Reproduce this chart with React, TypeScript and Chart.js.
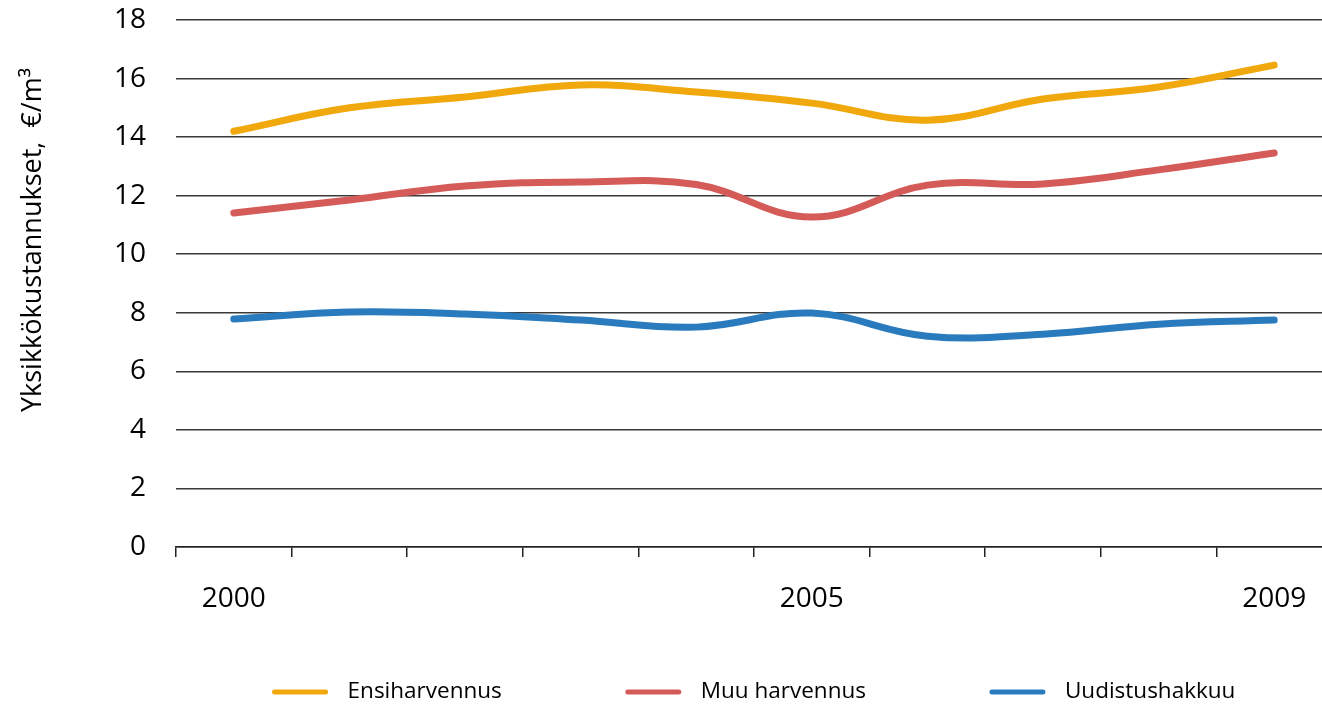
import React, { useEffect, useRef } from "react";
import { Chart, registerables } from "chart.js";

Chart.register(...registerables);

const years = ["2000", "2001", "2002", "2003", "2004", "2005", "2006", "2007", "2008", "2009"];
const shownYears = ["2000", "2005", "2009"];
const ensiharvennus = [14.2, 15.0, 15.37, 15.78, 15.54, 15.16, 14.58, 15.3, 15.71, 16.46];
const muuHarvennus = [11.41, 11.85, 12.33, 12.47, 12.38, 11.27, 12.36, 12.4, 12.88, 13.46];
const uudistushakkuu = [7.79, 8.03, 7.96, 7.75, 7.51, 7.99, 7.2, 7.27, 7.61, 7.75];
const seriesNames = ["Ensiharvennus", "Muu harvennus", "Uudistushakkuu"];
const seriesColors = ["#F0A80C", "#D55B58", "#2A7BBE"];
const yTitle = "Yksikkökustannukset,  €/m³";

const FONT = "'Open Sans', sans-serif";

const customDraw = {
  id: "customDraw",
  afterDraw(chart: any) {
    const ctx = chart.ctx;
    const area = chart.chartArea;
    ctx.save();
    // y-axis title
    ctx.fillStyle = "#000";
    ctx.font = `27px ${FONT}`;
    ctx.textAlign = "center";
    ctx.textBaseline = "middle";
    ctx.translate(33, 240);
    ctx.rotate(-Math.PI / 2);
    ctx.fillText(yTitle, 0, 0);
    ctx.restore();

    // legend
    ctx.save();
    ctx.font = `22.5px ${FONT}`;
    const lineW = 55;
    const gap = 20;
    const spacing = 124;
    const items = chart.data.datasets.map((d: any) => ({
      label: d.label,
      color: d.borderColor,
      w: ctx.measureText(d.label).width,
    }));
    let total = 0;
    items.forEach((it: any, i: number) => {
      total += lineW + gap + it.w + (i < items.length - 1 ? spacing : 0);
    });
    const center = (area.left + area.right) / 2;
    let x = center - total / 2;
    const y = 692;
    items.forEach((it: any) => {
      ctx.strokeStyle = it.color;
      ctx.lineWidth = 5;
      ctx.lineCap = "round";
      ctx.beginPath();
      ctx.moveTo(x + 2, y);
      ctx.lineTo(x + lineW - 2, y);
      ctx.stroke();
      ctx.fillStyle = "#000";
      ctx.textAlign = "left";
      ctx.textBaseline = "middle";
      ctx.fillText(it.label, x + lineW + gap, y);
      x += lineW + gap + it.w + spacing;
    });
    ctx.restore();
  },
};

export default function App() {
  const ref = useRef<HTMLCanvasElement>(null);
  useEffect(() => {
    if (!ref.current) return;
    const values = [ensiharvennus, muuHarvennus, uudistushakkuu];
    const chart = new Chart(ref.current, {
      type: "line",
      data: {
        labels: years,
        datasets: values.map((v, i) => ({
          label: seriesNames[i],
          data: v,
          borderColor: seriesColors[i],
          backgroundColor: seriesColors[i],
          borderWidth: 7,
          borderCapStyle: "round",
          borderJoinStyle: "round",
          pointRadius: 0,
          tension: 0.4,
          fill: false,
        })),
      },
      options: {
        animation: false,
        responsive: false,
        maintainAspectRatio: false,
        layout: { padding: { top: 20, right: 0, left: 0, bottom: 0 } },
        plugins: {
          legend: { display: false },
          tooltip: { enabled: false },
        },
        scales: {
          x: {
            type: "category",
            offset: true,
            afterFit(scale: any) {
              scale.height = 157;
              scale.paddingLeft = 0;
              scale.paddingRight = 0;
            },
            grid: {
              offset: true,
              drawOnChartArea: false,
              drawTicks: true,
              tickLength: 10,
              color: "#222",
              lineWidth: 1.5,
            },
            border: { display: true, color: "#222", width: 1.5 },
            ticks: {
              autoSkip: false,
              maxRotation: 0,
              padding: 25,
              color: "#000",
              font: { family: FONT, size: 28 },
              callback(this: any, val: any, idx: number) {
                const lbl = years[idx];
                return shownYears.includes(lbl) ? lbl : "";
              },
            },
          },
          y: {
            min: 0,
            max: 18,
            afterFit(scale: any) {
              scale.width = 176;
              scale.paddingTop = 0;
              scale.paddingBottom = 0;
            },
            grid: {
              drawTicks: false,
              color: "#3a3a3a",
              lineWidth: 1.5,
            },
            border: { display: false },
            ticks: {
              stepSize: 2,
              padding: 30,
              color: "#000",
              font: { family: FONT, size: 28 },
            },
          },
        },
      },
      plugins: [customDraw],
    } as any);
    return () => chart.destroy();
  }, []);
  return (
    <div
      style={{
        position: "absolute",
        left: 0,
        top: 0,
        width: 1322,
        height: 704,
        overflow: "hidden",
        background: "#fff",
      }}
    >
      <canvas ref={ref} width={1332} height={704} style={{ display: "block" }} />
    </div>
  );
}
